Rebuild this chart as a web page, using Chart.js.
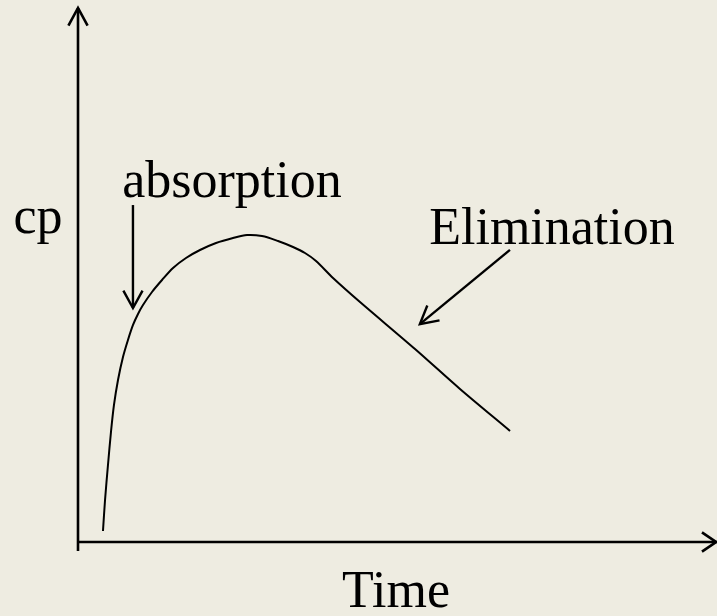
<!DOCTYPE html>
<html>
<head>
<meta charset="utf-8">
<script src="https://cdn.jsdelivr.net/npm/chart.js@4"></script>
<style>
  html, body { margin: 0; padding: 0; background: #EEECE1; }
  #wrap { width: 717px; height: 616px; }
</style>
</head>
<body>
<div id="wrap"><canvas id="pkChart" width="717" height="616"></canvas></div>
<script>
// Plasma concentration (cp) vs time, schematic units 0-100
const timeValues = [3.91, 4.23, 4.69, 5.16, 5.63, 6.26, 7.04, 7.82, 8.61, 9.39, 10.17, 11.58, 13.15, 14.87, 16.9, 19.09, 21.6, 24.26, 26.45, 28.79, 31.3, 33.65, 35.52, 37.25, 39.91, 44.13, 52.74, 59.78, 67.61];
const cpValues   = [2.06, 7.87, 14.42, 20.6, 25.66, 30.34, 34.64, 37.83, 40.64, 42.7, 44.38, 46.82, 49.06, 51.31, 53.18, 54.68, 55.99, 56.93, 57.49, 57.3, 56.37, 55.24, 54.12, 52.62, 49.44, 44.94, 36.14, 28.65, 20.79];

const axisTitles = { x: 'Time', y: 'cp' };
const phaseLabels = ['absorption', 'Elimination'];
// pointer arrows, in data units: [fromX, fromY, toX, toY]
const phaseArrows = [
  [8.6, 63.1, 8.6, 43.8],
  [67.6, 54.7, 53.5, 40.8],
];

const FONT = '52px "Liberation Serif", "DejaVu Serif", serif';

function arrowHead(ctx, tx, ty, angle, len, spread) {
  ctx.beginPath();
  ctx.moveTo(tx - len * Math.cos(angle - spread), ty - len * Math.sin(angle - spread));
  ctx.lineTo(tx, ty);
  ctx.lineTo(tx - len * Math.cos(angle + spread), ty - len * Math.sin(angle + spread));
  ctx.stroke();
}

const sketchPlugin = {
  id: 'sketch',
  afterDraw(chart) {
    const { ctx, chartArea: a, scales: { x, y } } = chart;
    ctx.save();
    ctx.strokeStyle = '#000';
    ctx.fillStyle = '#000';
    ctx.lineCap = 'butt';

    // axes with open arrowheads
    ctx.lineWidth = 2.6;
    ctx.beginPath();
    ctx.moveTo(a.left, a.bottom + 9);
    ctx.lineTo(a.left, a.top);
    ctx.moveTo(a.left, a.bottom);
    ctx.lineTo(a.right, a.bottom);
    ctx.stroke();
    arrowHead(ctx, a.left, a.top, -Math.PI / 2, 20, 0.5);
    arrowHead(ctx, a.right - 1, a.bottom, 0, 17, 0.6);

    // pointer arrows
    ctx.lineWidth = 2.4;
    phaseArrows.forEach(([x0, y0, x1, y1]) => {
      const px0 = x.getPixelForValue(x0), py0 = y.getPixelForValue(y0);
      const px1 = x.getPixelForValue(x1), py1 = y.getPixelForValue(y1);
      ctx.beginPath();
      ctx.moveTo(px0, py0);
      ctx.lineTo(px1, py1);
      ctx.stroke();
      arrowHead(ctx, px1, py1, Math.atan2(py1 - py0, px1 - px0), 20, 0.5);
    });

    // text
    ctx.font = FONT;
    ctx.textAlign = 'center';
    ctx.textBaseline = 'alphabetic';
    ctx.fillText(axisTitles.y, 38, 233);
    ctx.fillText(axisTitles.x, 396, 607);
    ctx.fillText(phaseLabels[0], 232, 197);
    ctx.fillText(phaseLabels[1], 552, 244);
    ctx.restore();
  }
};

new Chart(document.getElementById('pkChart'), {
  type: 'line',
  data: {
    datasets: [{
      data: timeValues.map((t, i) => ({ x: t, y: cpValues[i] })),
      borderColor: '#000',
      borderWidth: 2,
      pointRadius: 0,
      fill: false,
      tension: 0.3,
    }]
  },
  options: {
    responsive: false,
    animation: false,
    devicePixelRatio: 1,
    layout: { padding: { left: 78, right: 0, top: 8, bottom: 74 } },
    plugins: { legend: { display: false }, tooltip: { enabled: false } },
    scales: {
      x: { type: 'linear', min: 0, max: 100, display: false },
      y: { type: 'linear', min: 0, max: 100, display: false }
    }
  },
  plugins: [sketchPlugin]
});
</script>
</body>
</html>
